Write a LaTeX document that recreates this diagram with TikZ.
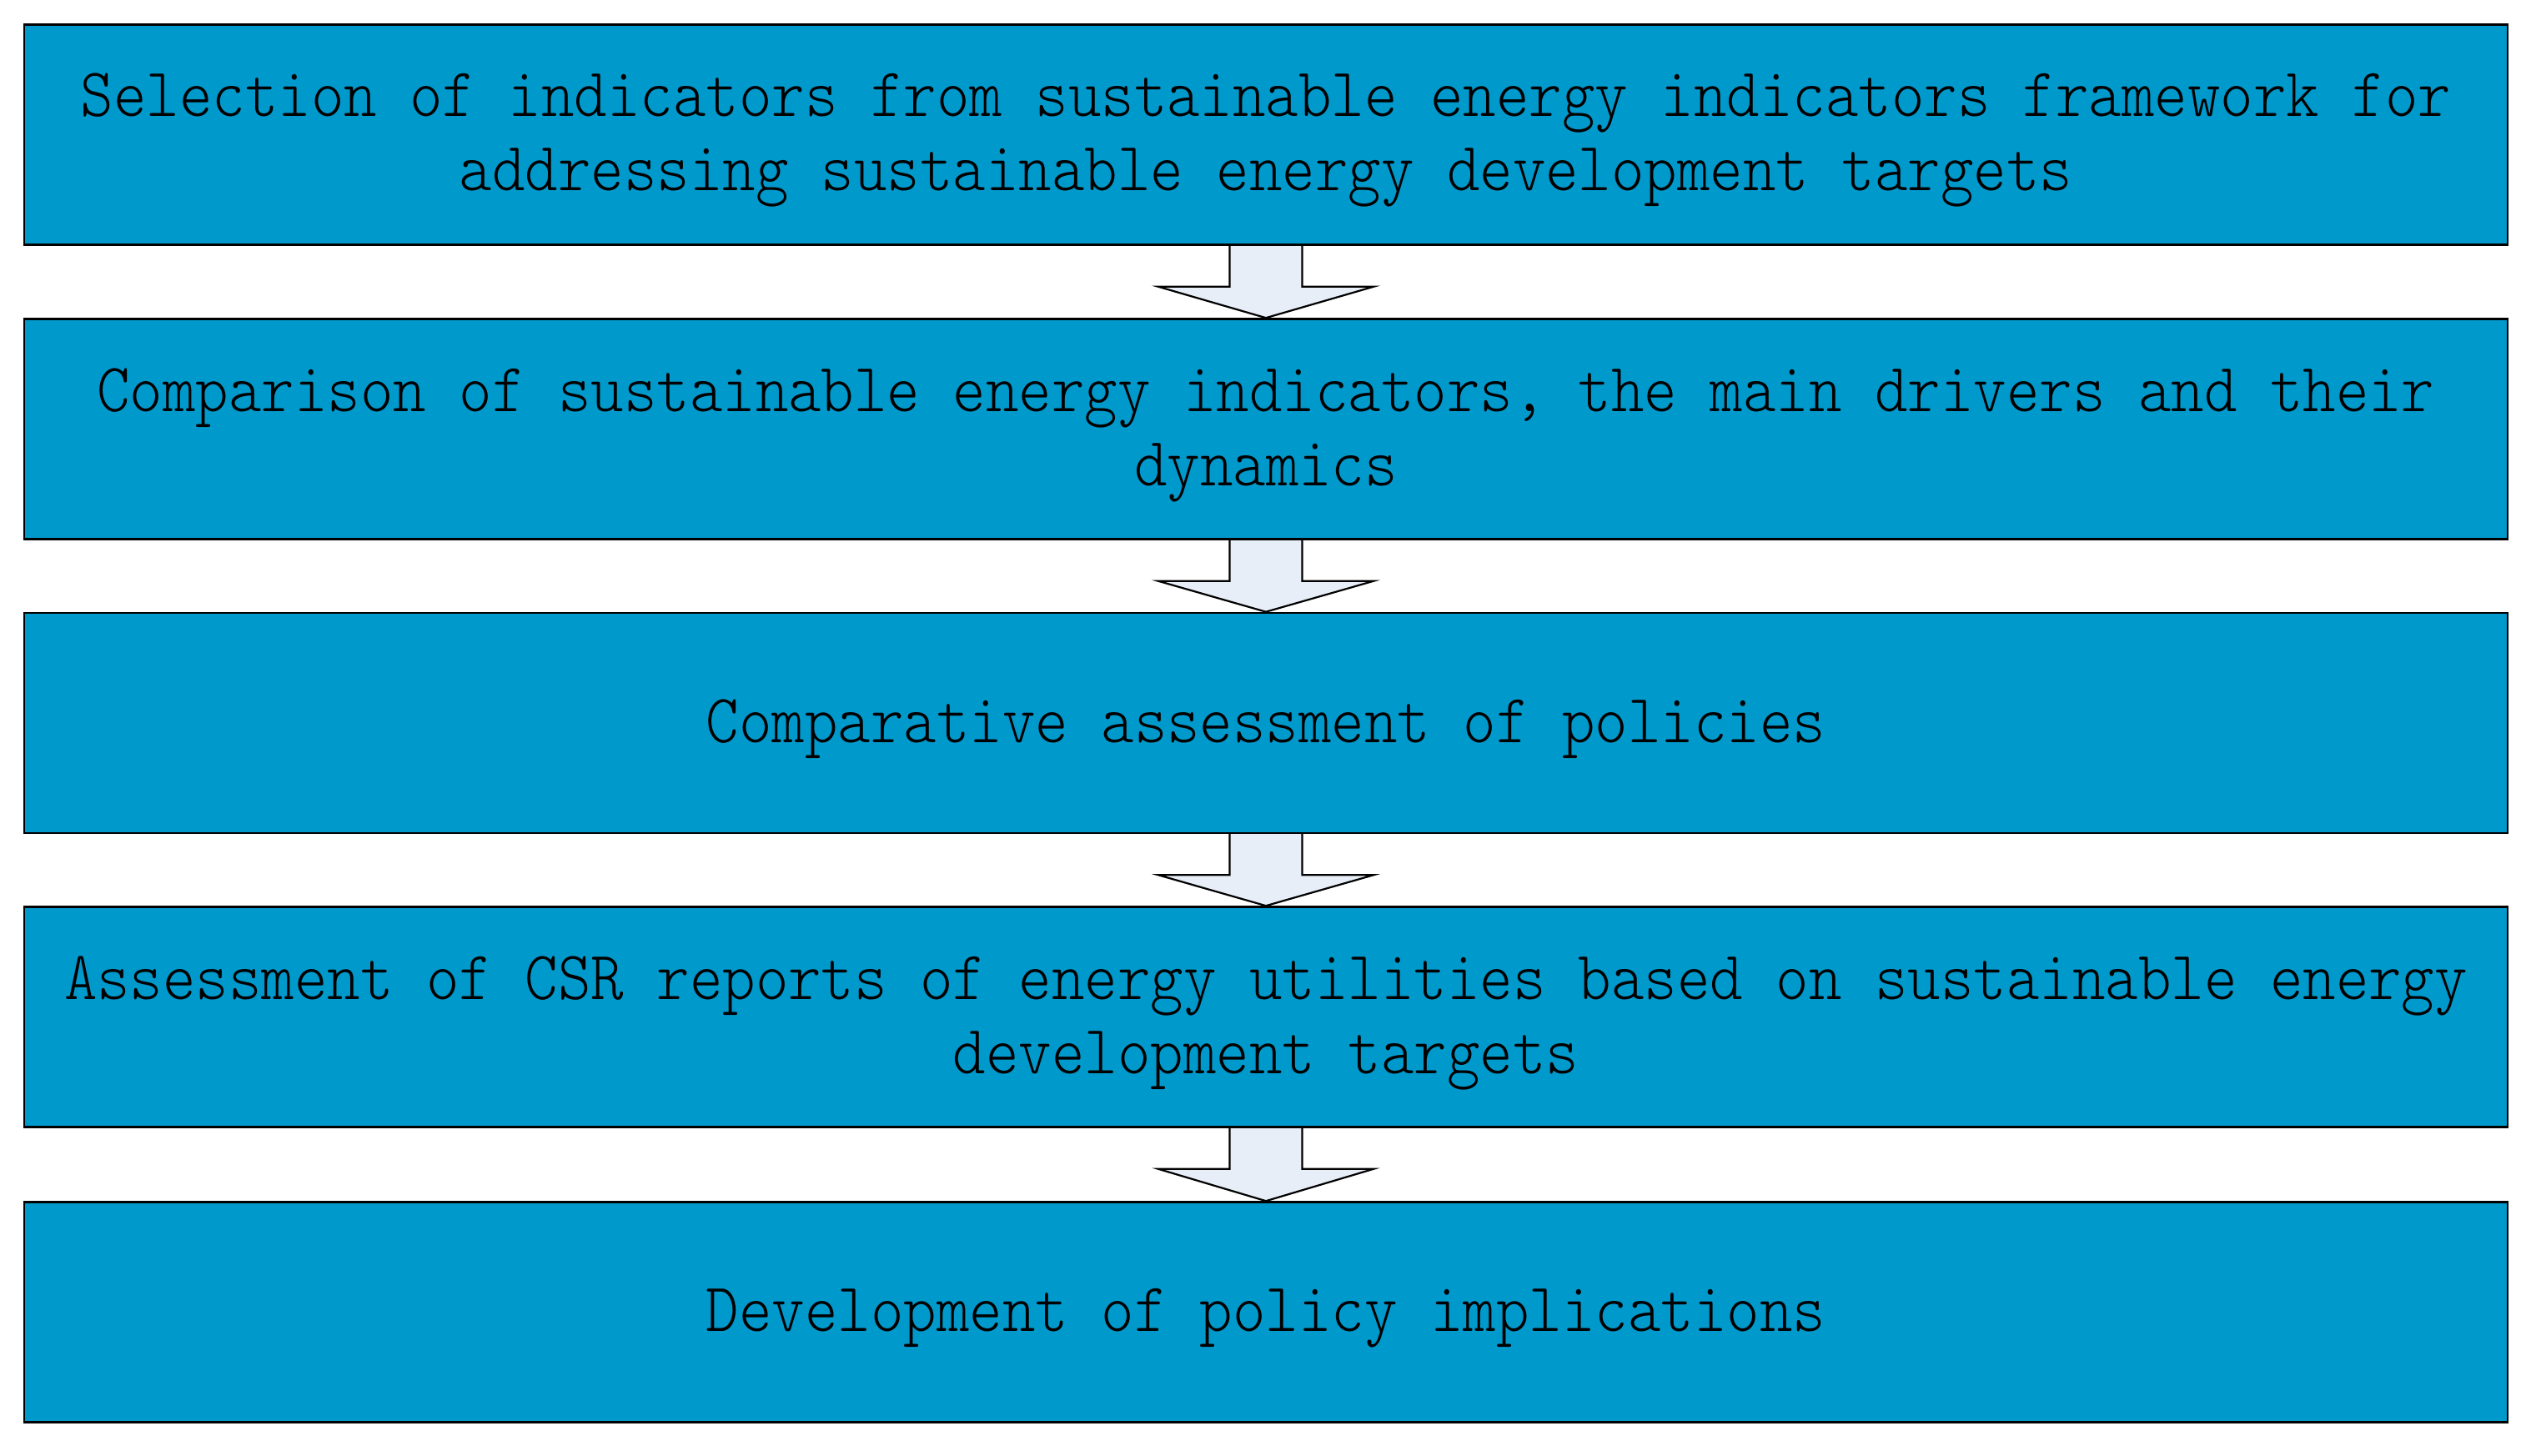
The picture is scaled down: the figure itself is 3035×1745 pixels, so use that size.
\documentclass[tikz,border=0pt]{standalone}
\usepackage{fontspec}
\newfontfamily\boxfont[FakeStretch=0.906]{Latin Modern Mono Light}
\usetikzlibrary{calc}
\pgfdeclarelayer{background}
\pgfsetlayers{background,main}
\definecolor{boxblue}{RGB}{0,153,204}
\definecolor{arrowfill}{RGB}{232,238,248}
\tikzset{
  stagebox/.style={draw=black, line width=2.6pt, fill=boxblue, rectangle,
    minimum width=2978pt, minimum height=264pt, inner sep=0pt},
  stagetext/.style={inner sep=0pt, align=center,
    font=\boxfont\fontsize{83}{89}\selectfont},
  blockarrow/.style={draw=black, line width=2.2pt, fill=arrowfill, line join=miter}
}
\newcommand{\stagearrow}[2]{%
  \begin{pgfonlayer}{background}
  \draw[blockarrow] ($(#1.south)+(-43.5,2)$) -- ($(#1.south)+(-43.5,-49)$)
    -- ($(#1.south)+(-129,-49)$) -- (#2.north) -- ($(#1.south)+(129,-49)$)
    -- ($(#1.south)+(43.5,-49)$) -- ($(#1.south)+(43.5,2)$);
  \end{pgfonlayer}}
\begin{document}
\begin{tikzpicture}[x=1pt,y=1pt]
\useasboundingbox (0,0) rectangle (3035,-1745);
\node[stagebox] (b1) at (1518,-161.5) {};
\node[stagebox] (b2) at (1518,-514.5) {};
\node[stagebox] (b3) at (1518,-867) {};
\node[stagebox] (b4) at (1518,-1219.5) {};
\node[stagebox] (b5) at (1518,-1573.5) {};
\node[stagetext] (t1) at ($(b1.center)+(0,-7)$) {Selection of indicators from sustainable energy indicators framework for\\addressing sustainable energy development targets};
\node[stagetext] (t2) at ($(b2.center)+(0,-7)$) {Comparison of sustainable energy indicators, the main drivers and their\\dynamics};
\node[stagetext] (t3) at ($(b3.center)+(0,-7)$) {Comparative assessment of policies};
\node[stagetext] (t4) at ($(b4.center)+(0,-7)$) {Assessment of CSR reports of energy utilities based on sustainable energy\\development targets};
\node[stagetext] (t5) at ($(b5.center)+(0,-7)$) {Development of policy implications};
\stagearrow{b1}{b2}
\stagearrow{b2}{b3}
\stagearrow{b3}{b4}
\stagearrow{b4}{b5}
\end{tikzpicture}
\end{document}
